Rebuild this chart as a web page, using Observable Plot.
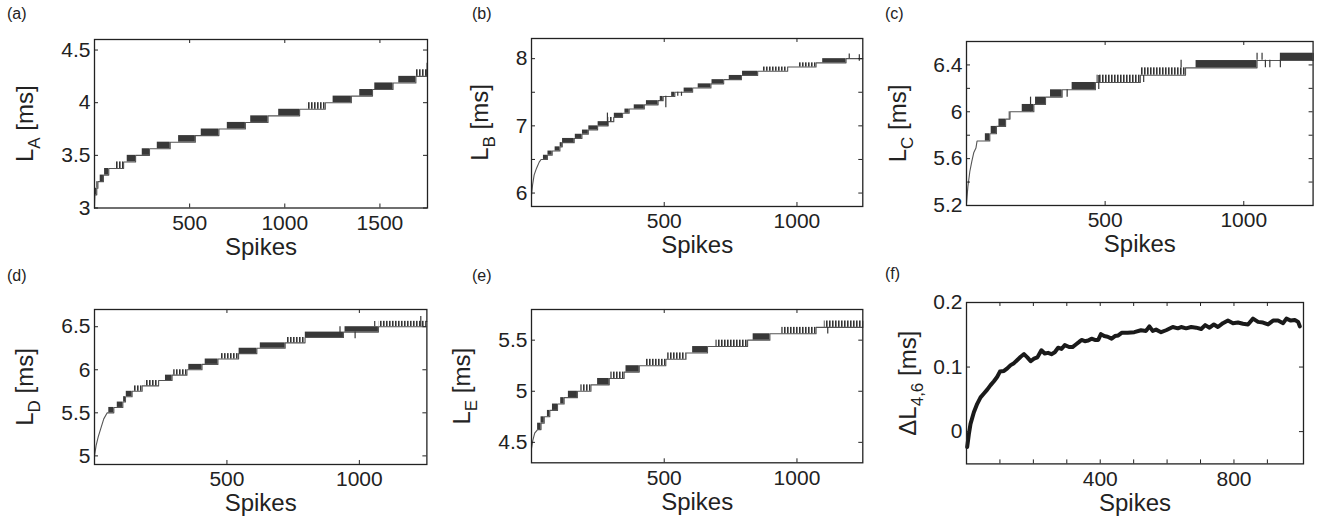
<!DOCTYPE html>
<html><head><meta charset="utf-8">
<script src="https://cdn.jsdelivr.net/npm/d3@7"></script>
<script src="https://cdn.jsdelivr.net/npm/@observablehq/plot@0.6"></script>
<style>
html,body{margin:0;padding:0;background:#fff;overflow:hidden;}
#fig{position:relative;width:1321px;height:526px;overflow:hidden;font-family:"Liberation Sans",Arial,Helvetica,sans-serif;color:#222;}
.cell{position:absolute;}
.letter{position:absolute;font-size:16px;line-height:16px;font-family:"Liberation Sans",Arial,sans-serif;color:#222;}
</style></head>
<body>
<svg width="0" height="0" style="position:absolute">
  <defs>
    <pattern id="sparse" patternUnits="userSpaceOnUse" width="3" height="20">
      <rect x="0" y="0" width="1.6" height="20" fill="#333"></rect>
    </pattern>
  </defs>
</svg>
<div id="fig"></div>
<script>
// ---------------- DATA ----------------
const panelLetters = ["(a)","(b)","(c)","(d)","(e)","(f)"];
const yLabelMain = ["L","L","L","L","L","ΔL"];
const yLabelSub  = ["A","B","C","D","E","4,6"];
const xLabelText = "Spikes";

const xDomains = [[0,1750],[0,1248],[0,1250],[0,1255],[0,1248],[0,1008]];
const yDomains = [[3,4.6],[5.8,8.3],[5.2,6.6],[4.9,6.7],[4.3,5.8],[-0.05,0.2]];
const yTickMarks  = [[3,3.5,4,4.5],[6,6.5,7,7.5,8],[5.2,5.4,5.6,5.8,6,6.2,6.4],[5,5.5,6,6.5],[4.5,5,5.5],[0,0.1,0.2]];
const yTickLabels = [[3,3.5,4,4.5],[6,7,8],[5.2,5.6,6,6.4],[5,5.5,6,6.5],[4.5,5,5.5],[0,0.1,0.2]];
const xTickMarks  = [[500,1000,1500],[500,1000],[500,1000],[500,1000],[500,1000],[100,200,300,400,500,600,700,800,900]];
const xTickLabels = [[500,1000,1500],[500,1000],[500,1000],[500,1000],[500,1000],[400,800]];

// early smooth rise [spike, latency ms]
const earlyA = [[0,3.0],[1,3.0625],[2,3.125]];
const earlyB = [[0,5.97],[4,6.12],[10,6.27],[19,6.37],[29,6.46],[36,6.5]];
const earlyC = [[0,5.22],[5,5.36],[12,5.49],[19,5.575],[26,5.65],[34,5.69],[38,5.75]];
const earlyD = [[0,5.0],[6,5.12],[14,5.22],[23,5.31],[35,5.43],[48,5.5]];
const earlyE = [[0,4.44],[5,4.52],[12,4.59],[23,4.625]];

// flicker blocks between two quantised latency levels: [fromSpike, toSpike, low, high, fraction at upper level]
const blocksA = [[2,12,3.125,3.1875,1],[12,18,3.1875,3.25,1],[30,47,3.25,3.3125,1],[53,75,3.3125,3.375,1],
 [110,153,3.375,3.4375,0.5],[172,216,3.4375,3.5,1],[251,289,3.5,3.5625,1],[330,398,3.5625,3.625,1],
 [442,530,3.625,3.6875,0.9],[561,654,3.6875,3.75,0.85],[698,793,3.75,3.8125,0.8],[821,912,3.8125,3.875,0.9],
 [968,1078,3.875,3.9375,0.8],[1119,1213,3.9375,4.0,0.75],[1254,1350,4.0,4.0625,0.9],[1394,1461,4.0625,4.125,1],
 [1473,1569,4.125,4.1875,0.9],[1599,1689,4.1875,4.25,0.85],[1690,1745,4.25,4.3125,0.45]];
const blocksB = [[45,60,6.5,6.5625,1],[62,78,6.5625,6.625,1],[89,107,6.625,6.6875,1],[108,116,6.6875,6.75,1],
 [117,161,6.75,6.8125,0.85],[165,190,6.8125,6.875,1],[192,214,6.875,6.9375,1],[216,249,6.9375,7.0,0.85],
 [251,289,7.0,7.0625,0.8],[292,310,7.0625,7.125,0.7],[312,343,7.125,7.1875,0.9],[352,368,7.1875,7.25,0.8],
 [387,425,7.25,7.3125,1],[433,477,7.3125,7.375,1],[485,496,7.375,7.4375,0.8],[528,540,7.4375,7.5,0.8],
 [575,607,7.5,7.5625,0.8],[628,676,7.5625,7.625,0.85],[680,724,7.625,7.6875,0.9],[745,791,7.6875,7.75,0.9],
 [795,852,7.75,7.8125,0.9],[871,965,7.8125,7.875,0.7],[1006,1072,7.875,7.9375,0.7],[1097,1185,7.9375,8.0,0.9]];
const blocksC = [[68,84,5.75,5.8125,1],[89,108,5.8125,5.875,1],[117,141,5.875,5.9375,1],[154,157,5.9375,6.0,1],
 [201,243,6.0,6.0625,0.85],[249,285,6.0625,6.125,0.9],[303,345,6.125,6.1875,0.85],[381,465,6.1875,6.25,0.9],
 [471,627,6.25,6.3125,0.65],[631,790,6.3125,6.375,0.65],[828,1048,6.375,6.4375,0.85],[1132,1250,6.4375,6.5,0.9]];
const blocksD = [[54,73,5.5,5.5625,1],[86,107,5.5625,5.625,1],[110,117,5.625,5.6875,1],[120,142,5.6875,5.75,0.8],
 [148,180,5.75,5.8125,0.6],[192,242,5.8125,5.875,0.7],[268,293,5.875,5.9375,1],[299,349,5.9375,6.0,0.7],
 [356,406,6.0,6.0625,0.9],[418,466,6.0625,6.125,0.9],[479,544,6.125,6.1875,0.65],[546,613,6.1875,6.25,0.85],
 [626,720,6.25,6.3125,0.85],[726,795,6.3125,6.375,0.6],[796,940,6.375,6.4375,0.8],[946,1072,6.4375,6.5,0.8],
 [1075,1250,6.5,6.5625,0.75]];
const blocksE = [[23,36,4.625,4.6875,1],[36,48,4.6875,4.75,1],[60,69,4.75,4.8125,1],[79,98,4.8125,4.875,1],
 [110,123,4.875,4.9375,1],[139,173,4.9375,5.0,0.8],[186,224,5.0,5.0625,0.55],[249,293,5.0625,5.125,0.85],
 [299,349,5.125,5.1875,0.6],[356,406,5.1875,5.25,0.9],[433,506,5.25,5.3125,0.75],[513,582,5.3125,5.375,0.6],
 [607,663,5.375,5.4375,0.9],[695,814,5.4375,5.5,0.6],[835,898,5.5,5.5625,0.9],[943,1072,5.5625,5.625,0.6],
 [1103,1248,5.625,5.6875,0.7]];

// isolated excursions: [spike, from, to]
const spikesA = [[1748,4.25,4.375]];
const spikesB = [[286,7.0,7.19],[506,7.27,7.44],[551,7.44,7.5],[565,7.44,7.5],[1197,8.0,8.07],[1235,7.96,8.06]];
const spikesC = [[231,6.0,6.125],[363,6.125,6.1875],[477,6.19,6.31],[639,6.25,6.31],[774,6.375,6.44],
 [1048,6.44,6.5],[1066,6.44,6.5],[1078,6.375,6.44],[1094,6.375,6.44],[1132,6.375,6.44]];
const spikesD = [[927,6.375,6.5],[984,6.36,6.44],[1058,6.5,6.56],[1232,6.5,6.62]];
const spikesE = [[1116,5.56,5.625]];
const lastSpike = [1750,1248,1250,1255,1248];

// panel (f): latency difference
const fSpikes = [2,7,12,22,32,42,52,62,72,82,92,100,112,122,132,142,152,162,172,182,192,202,212,224,234,244,254,264,274,284,294,307,317,327,337,344,354,364,374,384,394,402,412,422,434,444,454,464,482,502,522,537,547,557,567,582,597,617,632,642,657,672,687,702,714,727,740,752,767,782,797,812,827,842,857,872,887,902,917,932,947,957,970,982,992,997];
const fDelta  = [-0.024,-0.004,0.012,0.030,0.043,0.053,0.059,0.065,0.072,0.078,0.085,0.093,0.094,0.098,0.103,0.106,0.111,0.116,0.120,0.115,0.109,0.113,0.115,0.126,0.121,0.122,0.120,0.123,0.130,0.128,0.134,0.131,0.131,0.135,0.139,0.142,0.140,0.141,0.144,0.142,0.142,0.151,0.148,0.147,0.144,0.148,0.149,0.153,0.153,0.154,0.157,0.156,0.163,0.156,0.158,0.154,0.157,0.162,0.160,0.162,0.160,0.162,0.161,0.159,0.165,0.161,0.166,0.162,0.168,0.172,0.168,0.169,0.167,0.166,0.175,0.170,0.169,0.166,0.172,0.172,0.168,0.175,0.172,0.173,0.170,0.163];

const earlies = [earlyA,earlyB,earlyC,earlyD,earlyE];
const blocks = [blocksA,blocksB,blocksC,blocksD,blocksE];
const spikes = [spikesA,spikesB,spikesC,spikesD,spikesE];

// ---------------- LAYOUT ----------------
const frames = [[94,38.5,427,207],[530.7,37.5,862,205.5],[965.7,41,1312.3,205],
                [94.3,309,426.7,464],[531,308.7,862.3,462],[966,302.3,1303,463.7]];
const yLabelGap = [62,44,61,62,62,51];
const letterPos = [[7,6],[472,6],[885,6],[7,268],[472,268],[885,266]];
const mL = 95, mR = 8, mT = 12, mB = 62;
const ink = "#222";

function stairs(early, blk, xEnd) {
  const pts = early.map(([x,y]) => ({x, y}));
  for (const [x0,x1,lo,hi] of blk) pts.push({x:x0,y:lo},{x:x1,y:lo},{x:x1,y:hi});
  pts.push({x:xEnd, y: blk[blk.length-1][3]});
  return pts;
}

const fig = document.getElementById("fig");
frames.forEach((fr, i) => {
  const [L,T,R,B] = fr;
  const fw = R - L, fh = B - T;
  const marks = [];
  if (i < 5) {
    const dense = blocks[i].filter(d => d[4] >= 0.8);
    const sparse = blocks[i].filter(d => d[4] < 0.8);
    marks.push(Plot.line(stairs(earlies[i], blocks[i], lastSpike[i]), {x:"x", y:"y", stroke:"#555", strokeWidth:1.1}));
    marks.push(Plot.rect(dense, {x1:d=>d[0], x2:d=>d[1], y1:d=>d[2], y2:d=>d[3], fill:"#383838"}));
    marks.push(Plot.rect(sparse, {x1:d=>d[0], x2:d=>d[1], y1:d=>d[2], y2:d=>d[3], fill:"url(#sparse)"}));
    marks.push(Plot.ruleX(spikes[i], {x:d=>d[0], y1:d=>d[1], y2:d=>d[2], stroke:"#383838", strokeWidth:1.2}));
  } else {
    marks.push(Plot.line(fSpikes.map((x,k)=>({x, y:fDelta[k]})), {x:"x", y:"y", stroke:"#1a1a1a", strokeWidth:4, strokeLinejoin:"round", strokeLinecap:"round"}));
  }
  // inward tick marks on all four sides
  marks.push(Plot.tickY(yTickMarks[i], {y:d=>d, insetRight: fw-4, stroke:ink, strokeWidth:1}));
  marks.push(Plot.tickY(yTickMarks[i], {y:d=>d, insetLeft: fw-4, stroke:ink, strokeWidth:1}));
  marks.push(Plot.tickX(xTickMarks[i], {x:d=>d, insetTop: fh-4, stroke:ink, strokeWidth:1}));
  marks.push(Plot.tickX(xTickMarks[i], {x:d=>d, insetBottom: fh-4, stroke:ink, strokeWidth:1}));
  marks.push(Plot.frame({stroke:ink, strokeWidth:1.3}));
  marks.push(Plot.axisY(yTickLabels[i], {tickSize:0, tickPadding:4, tickFormat:d=>String(d), label:null, fill:ink}));
  marks.push(Plot.axisX(xTickLabels[i], {tickSize:0, tickPadding:7, tickFormat:d=>String(d), label:null, fill:ink}));
  marks.push(Plot.text([xLabelText], {frameAnchor:"bottom", dy:47, fontSize:24, lineAnchor:"bottom", textAnchor:"middle", fill:ink}));
  marks.push(Plot.text(["YLAB"], {frameAnchor:"left", dx:-yLabelGap[i], rotate:-90, fontSize:24, lineAnchor:"bottom", textAnchor:"middle", fill:ink}));

  const svg = Plot.plot({
    width: fw + mL + mR, height: fh + mT + mB,
    marginLeft: mL, marginRight: mR, marginTop: mT, marginBottom: mB,
    x: {domain: xDomains[i]}, y: {domain: yDomains[i]},
    style: {fontFamily:'"Liberation Sans", Arial, Helvetica, sans-serif', fontSize:"21px", color:ink, background:"transparent", overflow:"visible"},
    marks
  });
  svg.querySelectorAll("text").forEach(t => {
    if (t.textContent === "YLAB") {
      t.textContent = "";
      const ns = "http://www.w3.org/2000/svg";
      const a = document.createElementNS(ns, "tspan"); a.textContent = yLabelMain[i];
      const b = document.createElementNS(ns, "tspan"); b.textContent = yLabelSub[i];
      b.setAttribute("dy", "7"); b.setAttribute("font-size", "17");
      const c = document.createElementNS(ns, "tspan"); c.textContent = " [ms]";
      c.setAttribute("dy", "-7"); c.setAttribute("font-size", "24");
      t.append(a, b, c);
    }
  });
  const cell = document.createElement("div");
  cell.className = "cell";
  cell.style.left = (L - mL) + "px";
  cell.style.top = (T - mT) + "px";
  cell.appendChild(svg);
  fig.appendChild(cell);

  const lt = document.createElement("div");
  lt.className = "letter";
  lt.textContent = panelLetters[i];
  lt.style.left = letterPos[i][0] + "px";
  lt.style.top = letterPos[i][1] + "px";
  fig.appendChild(lt);
});
</script>
</body></html>
